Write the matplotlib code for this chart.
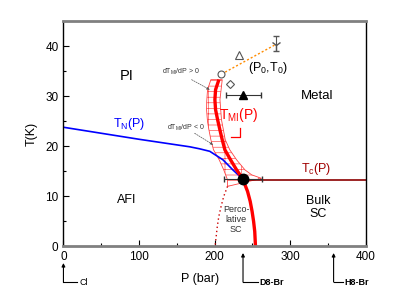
import matplotlib
matplotlib.use("Agg")
import matplotlib.pyplot as plt
from matplotlib.patches import Polygon
from matplotlib.ticker import MultipleLocator

plt.rcParams['font.family'] = ['Liberation Sans', 'DejaVu Sans']
plt.rcParams['mathtext.fontset'] = 'custom'
plt.rcParams['mathtext.rm'] = 'Liberation Sans'
plt.rcParams['mathtext.it'] = 'Liberation Sans:italic'
plt.rcParams['hatch.linewidth'] = 0.45

# T_N(P) line (blue)
tn_p = [0, 100, 167, 180, 193.5, 211, 224, 237]
tn_t = [23.8, 21.4, 19.9, 19.5, 19.0, 17.3, 15.3, 13.5]

# T_MI(P) line (thick red), given as P(T)
mi_t = [33.3, 31.3, 29.3, 27.3, 25.3, 23.3, 21.3, 19.3, 17.3, 15.3, 13.5, 11, 9, 7, 5, 3, 0]
mi_p = [205.6, 201.2, 200.3, 201.2, 203.9, 206.9, 210, 213.5, 221, 229, 237, 243.5, 247, 249.5, 251.5, 253, 254]

# hatched uncertainty band of T_MI
band_left_t = [33.3, 31.3, 29, 27.3, 25, 23.3, 21.3, 19.3, 17.3, 15.3, 13.3, 12]
band_left_p = [195, 190.6, 189.5, 189.3, 190.5, 192.4, 195, 198.5, 206, 212, 217, 217]
band_right_t = [13.6, 14.3, 15.3, 17.3, 19.3, 21.3, 25.3, 29.3, 33.3]
band_right_p = [262, 249, 240, 229, 220, 214, 209, 207, 210]

# percolative SC boundary (dotted)
perc_t = [12, 10, 8, 6, 4, 2, 0]
perc_p = [217, 212, 208.5, 205.5, 203.5, 202, 200.5]

# critical point and T_c(P)
crit_p, crit_t = 237, 13.5
crit_perr = [[24], [25]]
tc_p = [237, 400]
tc_t = [13.3, 13.3]

# end point (P0, T0) estimates
circ_p, circ_t = 209, 34.4
diam_p, diam_t = 220, 32.5
otri_p, otri_t = 232, 38.3
ftri_p, ftri_t = 237.5, 30.3
ftri_perr = [[22.8], [24.3]]
ymk_p, ymk_t = 280.5, 40.3
ymk_terr = [[1.3], [1.7]]

# compounds marked under the axis
comp_names = ['Cl', 'D8-Br', 'H8-Br']
comp_p = [0, 237.5, 357.3]

fig = plt.figure(figsize=(3.99, 3.08), dpi=100)
ax = fig.add_axes([0.159, 0.1997, 0.758, 0.732])

# band
band = Polygon(list(zip(band_left_p, band_left_t)) + list(zip(band_right_p, band_right_t)),
               closed=True, facecolor='none', edgecolor='#ff4040', hatch='---|', linewidth=0.6)
ax.add_patch(band)

ax.plot(tn_p, tn_t, color='#0000ff', lw=1.2)
ax.plot(tc_p, tc_t, color='#8b0000', lw=1.2)
ax.plot(perc_p, perc_t, color='#cc0000', lw=1.0, ls=(0, (1, 2)))
ax.errorbar(crit_p, crit_t, xerr=crit_perr, fmt='none', ecolor='#333333', elinewidth=0.8, capsize=2)
ax.plot(mi_p, mi_t, color='#ff0000', lw=2.4, solid_capstyle='butt')
ax.plot(crit_p, crit_t, 'o', color='black', ms=7.5)

# end point markers
ax.plot([circ_p, ymk_p], [circ_t, ymk_t], color='#ff8c00', lw=1.0, ls=(0, (1.5, 1.5)))
ax.plot(circ_p, circ_t, 'o', mfc='white', mec='#555555', ms=5, mew=0.8)
ax.plot(diam_p, diam_t, 'D', mfc='white', mec='#555555', ms=4.5, mew=0.8)
ax.plot(otri_p, otri_t, '^', mfc='white', mec='#555555', ms=6, mew=0.8)
ax.errorbar(ftri_p, ftri_t, xerr=ftri_perr, fmt='^', color='black', ms=6,
            ecolor='#333333', elinewidth=0.8, capsize=2)
ax.errorbar(ymk_p, ymk_t, yerr=ymk_terr, fmt='1', color='#555555', ms=8, mew=1.0,
            ecolor='#555555', elinewidth=0.8, capsize=2.5)

# labels in the phase diagram
ax.text(84, 34.1, 'PI', fontsize=10.5, ha='center', va='center')
ax.text(336, 30, 'Metal', fontsize=9.5, ha='center', va='center')
ax.text(83, 9.2, 'AFI', fontsize=9, ha='center', va='center')
ax.text(337, 7.7, 'Bulk\nSC', fontsize=9, ha='center', va='center', linespacing=1.1)
ax.text(228.5, 5.3, 'Perco-\nlative\nSC', fontsize=6.5, ha='center', va='center',
        color='#333333', linespacing=1.15)
ax.text(86.5, 24.5, 'T$_\\mathrm{N}$(P)', fontsize=9, color='#0000ff', ha='center', va='center')
ax.text(232, 26.3, 'T$_\\mathrm{MI}$(P)', fontsize=10, color='#ff0000', ha='center', va='center')
ax.text(334.5, 15.5, 'T$_\\mathrm{c}$(P)', fontsize=9, color='#a00000', ha='center', va='center')
ax.text(271, 35.7, '(P$_0$,T$_0$)', fontsize=9, ha='center', va='center')
ax.plot([234, 234, 222], [23.7, 21.9, 21.9], color='#ff0000', lw=0.9)

ax.text(156, 34.8, 'dT$_\\mathrm{MI}$/dP > 0', fontsize=5, color='#333333', ha='center', va='center')
ax.text(162.5, 23.6, 'dT$_\\mathrm{MI}$/dP < 0', fontsize=5, color='#333333', ha='center', va='center')
ax.annotate('', xy=(193.5, 31.3), xytext=(169.5, 33.3),
            arrowprops=dict(arrowstyle='-|>', color='#555555', lw=0.5, ls=(0, (2, 1.5)),
                            mutation_scale=4, shrinkA=0, shrinkB=0))
ax.annotate('', xy=(198, 20.3), xytext=(173.5, 22.6),
            arrowprops=dict(arrowstyle='-|>', color='#555555', lw=0.5, ls=(0, (2, 1.5)),
                            mutation_scale=4, shrinkA=0, shrinkB=0))

# compound arrows below the axis
head_t = [-3.3, -1.3, -1.3]
bend_len = [18.5, 19.5, 12]
for name, p, ht, bl in zip(comp_names, comp_p, head_t, bend_len):
    ax.annotate('', xy=(p, ht), xytext=(p, -7.1), annotation_clip=False,
                arrowprops=dict(arrowstyle='-|>', color='black', lw=0.8,
                                mutation_scale=5, shrinkA=0, shrinkB=0))
    ax.plot([p, p + bl], [-7.1, -7.1], color='black', lw=0.8, clip_on=False)
    ax.text(p + bl + 2.5, -7.1, name, fontsize=6.5, va='center', ha='left',
            fontweight='normal' if name == 'Cl' else 'bold')

ax.set_xlim(0, 400)
ax.set_ylim(0, 45)
ax.xaxis.set_major_locator(MultipleLocator(100))
ax.xaxis.set_minor_locator(MultipleLocator(50))
ax.yaxis.set_major_locator(MultipleLocator(10))
ax.yaxis.set_minor_locator(MultipleLocator(5))
ax.tick_params(which='both', direction='in', top=False, right=False, labelsize=8.5)
ax.tick_params(which='major', length=4, width=0.8)
ax.tick_params(which='minor', length=2.5, width=0.8)

for s in ['top', 'bottom']:
    ax.spines[s].set_color('#808080')
    ax.spines[s].set_linewidth(2)
for s in ['left', 'right']:
    ax.spines[s].set_color('black')
    ax.spines[s].set_linewidth(1)

ax.set_xlabel('P (bar)', fontsize=9)
ax.xaxis.set_label_coords(0.451, -0.118)
ax.set_ylabel('T(K)', fontsize=9)
ax.yaxis.set_label_coords(-0.085, 0.5)

fig.savefig('out.png', dpi=100)
